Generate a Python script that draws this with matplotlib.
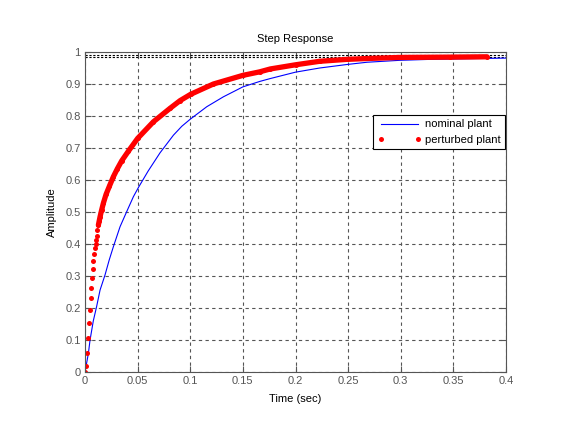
import matplotlib
matplotlib.use("Agg")
import matplotlib.pyplot as plt
import numpy as np

# nominal plant step response
t_nom = [0, 0.0032, 0.0048, 0.0079, 0.011, 0.0143, 0.019, 0.023, 0.027, 0.0333,
         0.0396, 0.046, 0.051, 0.06, 0.0713, 0.084, 0.092, 0.10, 0.1157, 0.1315, 0.15,
         0.166, 0.176, 0.20, 0.223, 0.249, 0.268, 0.299, 0.328, 0.347, 0.382, 0.40]
y_nom = [0, 0.058, 0.10, 0.16, 0.204, 0.256, 0.303, 0.35, 0.392, 0.454,
         0.501, 0.548, 0.578, 0.628, 0.685, 0.74, 0.768, 0.79, 0.829, 0.86, 0.891,
         0.908, 0.917, 0.937, 0.95, 0.961, 0.968, 0.974, 0.977, 0.978, 0.980, 0.981]

# perturbed plant step response (dots)
t_pert = [0, 0.0007, 0.0019, 0.0026, 0.0038, 0.0048, 0.0055, 0.006, 0.0066, 0.0072,
          0.0079, 0.0089, 0.0095, 0.0100, 0.0105, 0.011, 0.0118, 0.0127, 0.0135, 0.0143,
          0.0158, 0.0174, 0.020, 0.0231, 0.0269, 0.0307, 0.0349, 0.0412, 0.050, 0.065,
          0.0808, 0.0903, 0.1005, 0.122, 0.150, 0.166, 0.176, 0.200, 0.223, 0.249,
          0.271, 0.299, 0.347, 0.382]
y_pert = [0, 0.02, 0.06, 0.106, 0.154, 0.194, 0.23, 0.262, 0.293, 0.321,
          0.346, 0.368, 0.387, 0.40, 0.4125, 0.425, 0.445, 0.459, 0.472, 0.485,
          0.506, 0.527, 0.555, 0.58, 0.61, 0.635, 0.66, 0.69, 0.73, 0.782,
          0.824, 0.848, 0.868, 0.90, 0.927, 0.938, 0.947, 0.960, 0.971, 0.977,
          0.980, 0.983, 0.984, 0.985]

# steady state markers
y_final = [0.991, 0.985]

xticks = [0, 0.05, 0.1, 0.15, 0.2, 0.25, 0.3, 0.35, 0.4]
yticks = [0, 0.1, 0.2, 0.3, 0.4, 0.5, 0.6, 0.7, 0.8, 0.9, 1]

plt.rcParams['font.family'] = ['Liberation Sans', 'DejaVu Sans']
plt.rcParams['font.size'] = 8

fig = plt.figure(figsize=(5.61, 4.21), dpi=100)
ax = fig.add_axes([85 / 561, 49 / 421, 421 / 561, 320 / 421])

gray = '#555555'
ax.grid(True, color=gray, linestyle=(0, (3, 3)), linewidth=0.8)
ax.set_axisbelow(True)

for yf in y_final:
    ax.axhline(yf, color='black', linestyle=(0, (2, 1.5)), linewidth=0.8)

ax.plot(t_nom, y_nom, color='blue', linewidth=0.8, label='nominal plant')

tp = np.array(t_pert)
yp = np.array(y_pert)
dense = tp >= 0.0127
ax.plot(tp[dense], yp[dense], color='red', linewidth=3.8, solid_capstyle='round',
        solid_joinstyle='round')
ax.plot(tp, yp, linestyle='none', marker='o', markersize=3.6, color='red',
        markeredgewidth=0, label='perturbed plant')

ax.set_xlim(0, 0.4)
ax.set_ylim(0, 1)
ax.set_xticks(xticks)
ax.set_xticklabels(['0', '0.05', '0.1', '0.15', '0.2', '0.25', '0.3', '0.35', '0.4'])
ax.set_yticks(yticks)
ax.set_yticklabels(['0', '0.1', '0.2', '0.3', '0.4', '0.5', '0.6', '0.7', '0.8', '0.9', '1'])
ax.tick_params(direction='in', length=4, colors=gray, labelcolor=gray,
               top=True, right=True, labelsize=8, pad=3)
for s in ax.spines.values():
    s.set_color(gray)
    s.set_linewidth(0.8)

ax.set_title('Step Response', fontsize=8, pad=7)
ax.set_xlabel('Time (sec)', fontsize=8, labelpad=6)
ax.set_ylabel('Amplitude', fontsize=8, labelpad=6)

leg = ax.legend(loc='upper right', bbox_to_anchor=(0.998, 0.803), numpoints=2,
                fancybox=False, framealpha=1, edgecolor='black', fontsize=8,
                handlelength=4, handletextpad=0.3, borderpad=0.4, labelspacing=0.5,
                borderaxespad=0)
leg.get_frame().set_linewidth(0.8)

fig.savefig('out.png', dpi=100)
